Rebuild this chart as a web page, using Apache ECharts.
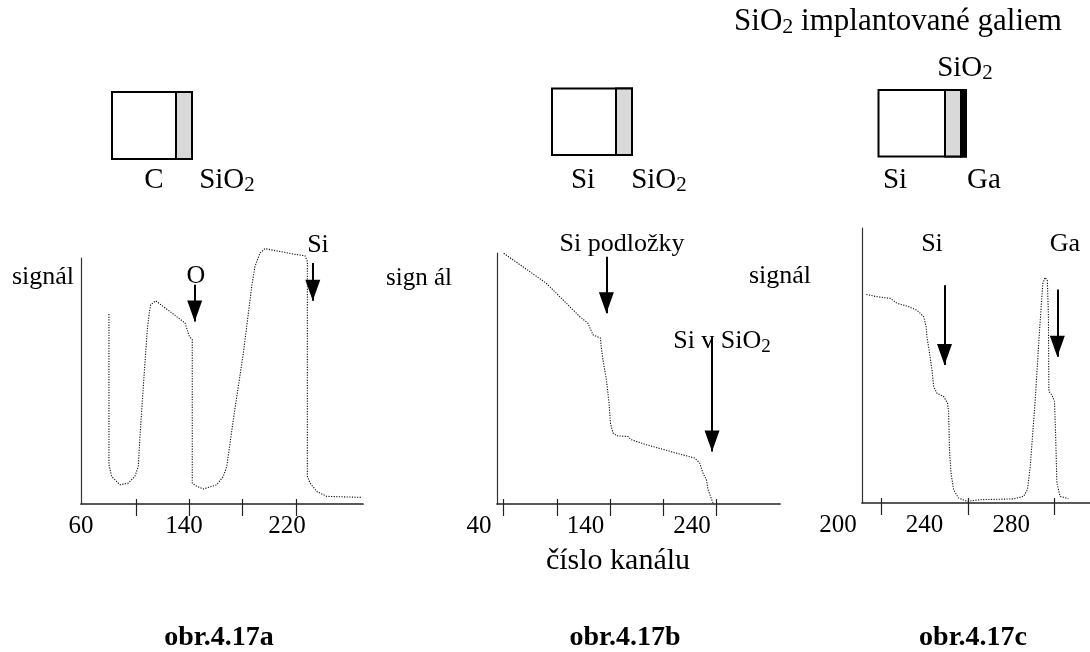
<!DOCTYPE html>
<html>
<head>
<meta charset="utf-8">
<script src="https://cdn.jsdelivr.net/npm/echarts@6/dist/echarts.min.js"></script>
<style>
  html, body { margin: 0; padding: 0; background: #fff; }
  #chart { width: 1090px; height: 652px; }
</style>
</head>
<body>
<div id="chart"></div>
<script>
// ---- spectra (channel number vs. relative signal, 0..100) ----
// a) SiO2 layer on carbon
const channelA = [81.7, 81.7, 83.8, 90.3, 96.7, 101.9, 104.5, 105.8, 108.4, 111.5, 113.0, 114.1, 118.0, 140.8, 144.1,
                  146.4, 146.4, 149.9, 155.0, 165.4, 170.5, 173.2, 178.3, 186.1, 192.6, 195.1, 199.0, 202.9, 224.9,
                  234.0, 235.8, 235.8, 237.9, 243.1, 250.8, 278.0];
const signalA  = [77.2, 16.0, 11.2, 7.8, 8.5, 11.2, 15.3, 27.5, 47.8, 70.9, 77.6, 81.0, 82.6, 73.6, 68.1,
                  66.8, 8.5, 7.2, 6.1, 7.8, 11.2, 15.3, 34.3, 61.4, 88.5, 96.6, 102.0, 103.8, 101.6,
                  100.9, 98.6, 11.2, 8.5, 5.1, 3.1, 2.7];
// b) SiO2 layer on silicon
const channelB = [63.2, 103.3, 134.5, 142.3, 147.0, 154.0, 154.9, 156.4, 159.6, 162.1, 163.4, 165.8, 169.0, 179.9,
                  183.1, 197.2, 228.4, 242.5, 247.2, 250.3, 253.5, 255.0, 259.7];
const signalB  = [99.9, 87.9, 74.7, 72.0, 67.4, 66.1, 62.1, 57.4, 49.5, 40.2, 32.2, 28.3, 27.2, 26.9,
                  25.6, 23.6, 19.9, 18.3, 16.3, 12.3, 9.7, 5.7, 0.4];
// c) gallium-implanted SiO2 on silicon
const channelC = [213.1, 218.1, 224.2, 227.3, 231.9, 236.5, 239.6, 240.7, 241.1, 242.3, 243.4, 244.2, 245.7, 248.8,
                  250.6, 251.1, 251.5, 252.2, 253.4, 255.7, 259.6, 265.7, 281.1, 285.7, 287.5, 288.8, 291.1, 293.0,
                  294.6, 295.6, 296.7, 297.2, 297.4, 298.8, 300.0, 300.5, 301.1, 302.6, 306.4];
const signalC  = [75.8, 75.0, 74.4, 72.6, 71.6, 70.1, 67.7, 64.1, 60.4, 54.4, 48.4, 42.3, 39.9, 38.7,
                  36.3, 33.2, 19.3, 10.9, 4.8, 1.8, 0.6, 1.2, 1.5, 2.4, 4.8, 13.3, 37.5, 61.7,
                  79.8, 82.0, 81.0, 67.7, 40.5, 39.3, 36.9, 25.4, 7.3, 2.4, 1.6];

// ---- axis ticks and tick labels (channel numbers) ----
const ticksA = [103, 144, 185, 227];
const labelsA = [60, 140, 220];
const ticksB = [63, 113, 163, 213, 263];
const labelsB = [40, 140, 240];
const ticksC = [220, 260, 300];
const labelsC = [200, 240, 280];

// ---- marker arrows: [channel, signal at tail, signal at tip] ----
const arrowsA = [[148.3, 89.1, 74.2], [240.0, 98.0, 82.6]];
const arrowsB = [[159.6, 98.5, 76.0], [258.8, 66.7, 20.9]];
const arrowsC = [[249.2, 79.2, 50.2], [301.3, 77.6, 53.2]];

// ---- layout ----
const FONT = '"Liberation Serif", "Times New Roman", serif';
const panels = [
  { labelLeft: 81,  left: 81,  right: 363,  top: 258, bottom: 504, labelMin: 60,  max: 279,
    x: channelA, y: signalA, ticks: ticksA, labels: labelsA, arrows: arrowsA },
  { labelLeft: 479, left: 497, right: 780,  top: 253, bottom: 504, labelMin: 40,  max: 322.6,
    x: channelB, y: signalB, ticks: ticksB, labels: labelsB, arrows: arrowsB },
  { labelLeft: 838, left: 862, right: 1090, top: 228, bottom: 503, labelMin: 200, max: 316.4,
    x: channelC, y: signalC, ticks: ticksC, labels: labelsC, arrows: arrowsC }
];

const grid = [], xAxis = [], yAxis = [], series = [];
panels.forEach((p, i) => {
  const scale = (p.right - p.labelLeft) / (p.max - p.labelMin);
  const mainMin = p.labelMin + (p.left - p.labelLeft) / scale;
  const h = p.bottom - p.top;
  const gMain = grid.length;
  grid.push({ left: p.left, top: p.top, width: p.right - p.left, height: h, outerBoundsMode: 'none' });
  const gLab = grid.length;
  grid.push({ left: p.labelLeft, top: p.top, width: p.right - p.labelLeft, height: h, outerBoundsMode: 'none' });

  const xMain = xAxis.length;
  xAxis.push({
    type: 'value', gridIndex: gMain, min: mainMin, max: p.max, position: 'bottom',
    axisLine: { show: true, onZero: false, lineStyle: { color: '#222', width: 1.7 } },
    axisTick: { show: true, inside: false, length: 12, customValues: p.ticks, lineStyle: { color: '#222', width: 1.2 } },
    axisLabel: { show: false }, splitLine: { show: false }
  });
  xAxis.push({
    type: 'value', gridIndex: gLab, min: p.labelMin, max: p.max, position: 'bottom',
    axisLine: { show: false },
    axisTick: { show: true, inside: true, length: 5, customValues: p.ticks, lineStyle: { color: '#222', width: 1.2 } },
    axisLabel: { show: true, customValues: p.labels, margin: 10, color: '#000', fontSize: 25, fontFamily: FONT },
    splitLine: { show: false }
  });
  const yMain = yAxis.length;
  yAxis.push({
    type: 'value', gridIndex: gMain, min: 0, max: 100,
    axisLine: { show: true, onZero: false, lineStyle: { color: '#333', width: 1.2 } },
    axisTick: { show: false }, axisLabel: { show: false }, splitLine: { show: false }
  });
  yAxis.push({ type: 'value', gridIndex: gLab, min: 0, max: 100, show: false });

  series.push({
    type: 'line', xAxisIndex: xMain, yAxisIndex: yMain,
    data: p.x.map((c, k) => [c, p.y[k]]),
    showSymbol: false, symbol: 'none', clip: false, silent: true,
    lineStyle: { color: '#111', width: 1.1, type: [1.2, 1.4] },
    markLine: {
      silent: true, animation: false, symbol: ['none', 'triangle'],
      lineStyle: { color: '#000', width: 2, type: 'solid' },
      label: { show: false }, emphasis: { disabled: true },
      data: p.arrows.map(a => [
        { coord: [a[0], a[1]], symbol: 'none' },
        { coord: [a[0], a[2]], symbol: 'triangle', symbolSize: [15, 21], symbolOffset: [0, 10.5] }
      ])
    }
  });
});

// ---- text helpers ----
function label(text, cx, base, fs, weight) {
  return {
    type: 'text', x: cx, y: base - 0.3375 * fs, silent: true,
    style: {
      text: text, font: (weight || 'normal') + ' ' + fs + 'px ' + FONT, fill: '#000',
      align: 'center', verticalAlign: 'middle', textAlign: 'center', textVerticalAlign: 'middle'
    }
  };
}
// text with a subscript part written as {s|...}; other parts are {m|...}
function subLabel(text, cx, base, fs, sfs, drop) {
  const mainCenter = base - 0.3375 * fs;
  const subCenter = base + drop - 0.3375 * sfs;
  const pad = subCenter - (mainCenter - fs / 2) - sfs / 2;
  const lh = Math.max(fs, sfs + pad);
  return {
    type: 'text', x: cx, y: mainCenter + lh / 2 - fs / 2, silent: true,
    style: {
      text: text, fill: '#000',
      align: 'center', verticalAlign: 'middle', textAlign: 'center', textVerticalAlign: 'middle',
      rich: {
        m: { font: fs + 'px ' + FONT, height: fs, verticalAlign: 'top', fill: '#000' },
        s: { font: sfs + 'px ' + FONT, height: sfs, padding: [pad, 0, 0, 0], verticalAlign: 'top', fill: '#000' }
      }
    }
  };
}
function box(x, y, w, h, split, gaX) {
  const els = [
    { type: 'rect', silent: true, shape: { x: x, y: y, width: w, height: h }, style: { fill: '#fff', stroke: '#000', lineWidth: 2 } },
    { type: 'rect', silent: true, shape: { x: split, y: y, width: (gaX || x + w) - split, height: h }, style: { fill: '#d9d9d9', stroke: '#000', lineWidth: 2 } }
  ];
  if (gaX) {
    els.push({ type: 'rect', silent: true, shape: { x: gaX, y: y, width: x + w - gaX, height: h }, style: { fill: '#000', stroke: '#000', lineWidth: 2 } });
  }
  return els;
}

const graphics = [].concat(
  box(112, 92, 80, 67, 176),
  box(552, 88.5, 80, 66.5, 616),
  box(878.5, 90, 87.5, 66.5, 945, 961),
  [
    subLabel('{m|SiO}{s|2}{m| implantované galiem}', 898, 32, 31, 22, 3),
    subLabel('{m|SiO}{s|2}', 965, 78, 29, 21, 3),
    label('C', 154, 190, 29),
    subLabel('{m|SiO}{s|2}', 227, 190, 29, 21, 3),
    label('Si', 583, 190, 29),
    subLabel('{m|SiO}{s|2}', 659, 190, 29, 21, 3),
    label('Si', 895, 190, 29),
    label('Ga', 984, 190, 29),

    label('signál', 43, 286, 26),
    label('sign ál', 419, 286.5, 25),
    label('signál', 780, 285, 26),

    label('O', 196, 285, 26),
    label('Si', 318, 254, 26),
    label('Si podložky', 622, 253, 26),
    subLabel('{m|Si v SiO}{s|2}', 722, 350, 26, 19, 3),
    label('Si', 932, 253, 26),
    label('Ga', 1065, 253, 26),

    label('číslo kanálu', 618, 571.5, 30),

    label('obr.4.17a', 219, 647, 28, 'bold'),
    label('obr.4.17b', 625, 647, 28, 'bold'),
    label('obr.4.17c', 973, 647, 28, 'bold')
  ]
);

const chart = echarts.init(document.getElementById('chart'), null, { renderer: 'canvas' });
chart.setOption({
  animation: false,
  backgroundColor: '#fff',
  grid: grid,
  xAxis: xAxis,
  yAxis: yAxis,
  series: series,
  graphic: { elements: graphics }
});
</script>
</body>
</html>
